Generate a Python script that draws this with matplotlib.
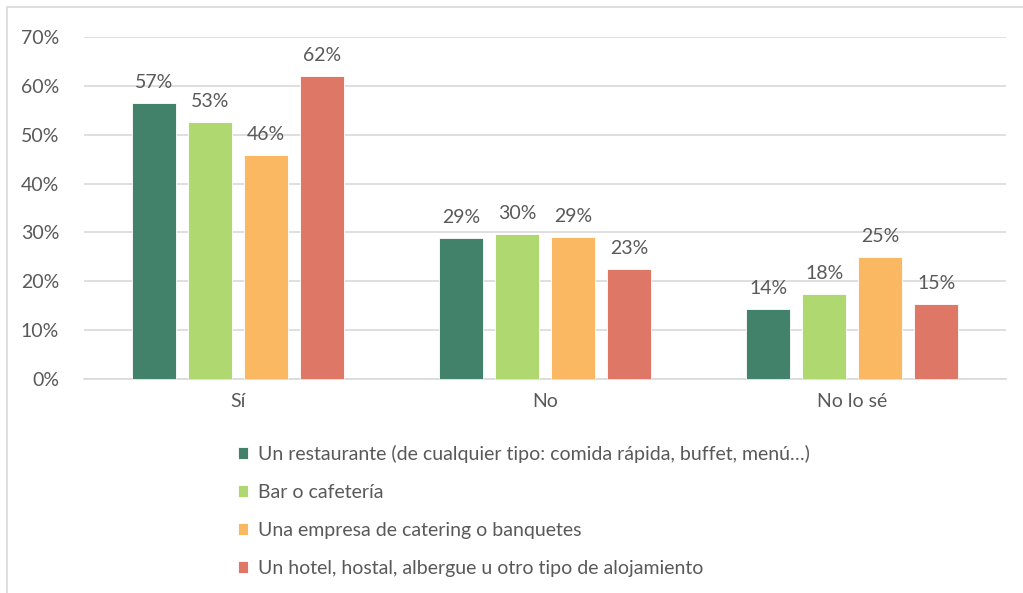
import matplotlib
matplotlib.use('Agg')
import matplotlib.pyplot as plt
import numpy as np
from matplotlib.patches import Rectangle

# Data
categories = ['Sí', 'No', 'No lo sé']
series_names = [
    'Un restaurante (de cualquier tipo: comida rápida, buffet, menú…)',
    'Bar o cafetería',
    'Una empresa de catering o banquetes',
    'Un hotel, hostal, albergue u otro tipo de alojamiento',
]
restaurante = [56.5, 28.9, 14.3]
bar = [52.6, 29.7, 17.4]
catering = [45.8, 29.1, 25.0]
hotel = [62.0, 22.5, 15.3]
labels = [[57, 29, 14], [53, 30, 18], [46, 29, 25], [62, 23, 15]]
colors = ['#43826A', '#B0D870', '#FBB862', '#DE7765']

plt.rcParams['font.family'] = ['Lato', 'DejaVu Sans']
text_color = '#595959'
fs = 14

fig = plt.figure(figsize=(10.23, 5.93), dpi=100)
ax = fig.add_axes([84 / 1023, 1 - 379 / 593, 922 / 1023, 342 / 593])

# outer chart frame
fig.patches.append(Rectangle((7 / 1023, -0.01), 1.1, 1 - 7 / 593 + 0.01, transform=fig.transFigure,
                             fill=False, edgecolor='#d9d9d9', linewidth=1.2))

x = np.arange(len(categories))
step = 0.182
width = 0.143
all_series = [restaurante, bar, catering, hotel]
handles = []
for i, (vals, c) in enumerate(zip(all_series, colors)):
    pos = x + (i - 1.5) * step
    b = ax.bar(pos, vals, width=width, color=c, edgecolor='white', linewidth=0.6, zorder=3)
    handles.append(b)
    for p, v, lab in zip(pos, vals, labels[i]):
        ax.text(p, v + 2.5, f'{lab}%', ha='center', va='bottom', fontsize=fs, color=text_color)

ax.set_xlim(-0.5, 2.5)
ax.set_ylim(0, 70)
ax.set_yticks(range(0, 71, 10))
ax.set_yticklabels([f'{t}%' for t in range(0, 71, 10)])
ax.set_xticks(x)
ax.set_xticklabels(categories)
ax.yaxis.grid(True, color='#d9d9d9', linewidth=1.2, zorder=0)
for s in ['top', 'right', 'left']:
    ax.spines[s].set_visible(False)
ax.spines['bottom'].set_color('#d9d9d9')
ax.spines['bottom'].set_linewidth(1.2)
ax.tick_params(axis='both', length=0, labelsize=fs, colors=text_color)
ax.tick_params(axis='y', pad=18)
ax.tick_params(axis='x', pad=10)

leg = fig.legend(handles, series_names, loc='upper left', bbox_to_anchor=(230 / 1023, 1 - 437 / 593),
                 frameon=False, fontsize=fs, handlelength=0.55, handleheight=0.55, handletextpad=0.5,
                 labelspacing=1.08, borderaxespad=0)
for t in leg.get_texts():
    t.set_color(text_color)

fig.savefig('out.png', dpi=100)
